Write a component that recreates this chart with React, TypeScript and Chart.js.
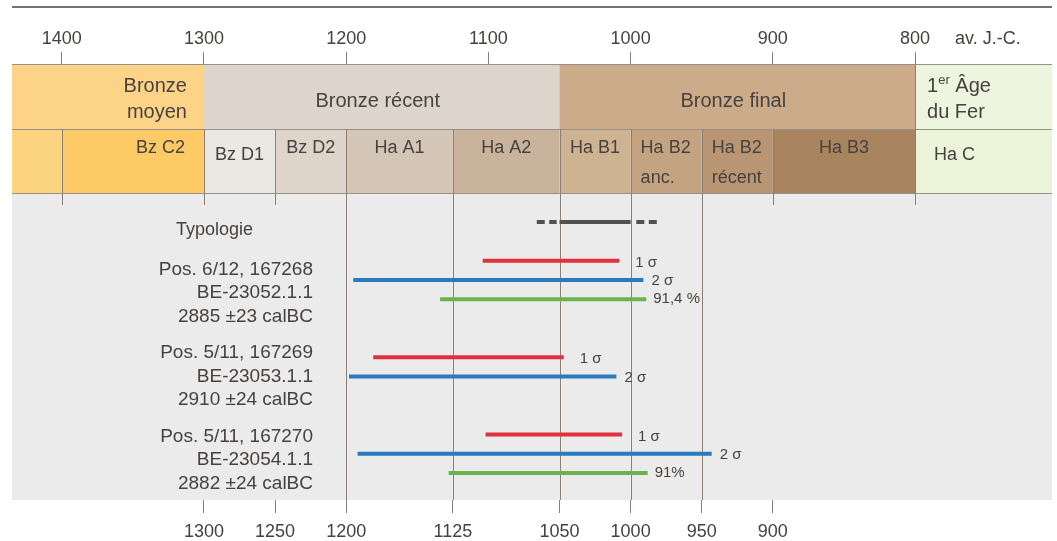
import React, { useEffect, useRef } from "react";
import { Chart, registerables } from "chart.js";

Chart.register(...registerables);

// ---- axis extent (years BC, reversed axis) ----
const YEAR_LEFT = 1435;
const YEAR_RIGHT = 703.7;

// ---- tick labels ----
const topTicks = [1400, 1300, 1200, 1100, 1000, 900, 800];
const bottomTicks = [1300, 1250, 1200, 1125, 1050, 1000, 950, 900];

// ---- periods (row 1) ----
const periodNames = [["Bronze", "moyen"], ["Bronze récent"], ["Bronze final"], ["1er Âge", "du Fer"]];
const periodBounds = [
  [YEAR_LEFT, 1300],
  [1300, 1050],
  [1050, 800],
  [800, YEAR_RIGHT],
];

// ---- phases (row 2) ----
const phaseNames = [[""], ["Bz C2"], ["Bz D1"], ["Bz D2"], ["Ha A1"], ["Ha A2"], ["Ha B1"], ["Ha B2", "anc."], ["Ha B2", "récent"], ["Ha B3"], ["Ha C"]];
const phaseBounds = [
  [YEAR_LEFT, 1400],
  [1400, 1300],
  [1300, 1250],
  [1250, 1200],
  [1200, 1125],
  [1125, 1050],
  [1050, 1000],
  [1000, 950],
  [950, 900],
  [900, 800],
  [800, YEAR_RIGHT],
];

// ---- reference lines in the lower panel ----
const fullGridYears = [1200, 1125, 1050, 1000, 950];
const shortGridYears = [1400, 1300, 1250, 900, 800];

// ---- typology ----
const typologyLabel = "Typologie";
const typologySolid = [1050, 1000];
const typologyDashed = [
  [1066, 1052],
  [996, 981],
];

// ---- radiocarbon samples ----
const sampleLabels = [
  ["Pos. 6/12, 167268", "BE-23052.1.1", "2885 ±23 calBC"],
  ["Pos. 5/11, 167269", "BE-23053.1.1", "2910 ±24 calBC"],
  ["Pos. 5/11, 167270", "BE-23054.1.1", "2882 ±24 calBC"],
];
const sigma1 = [
  [1104, 1008],
  [1181, 1047],
  [1102, 1006],
];
const sigma2 = [
  [1195, 991],
  [1198, 1010],
  [1192, 943],
];
const pctRanges = [[1134, 989], null, [1128, 988]];
const pctLabels = ["91,4 %", null, "91%"];
const sigma1Label = "1 σ";
const sigma2Label = "2 σ";

// row index (category slot) of each item
const typologyRow = 0;
const sampleRows = [2, 7, 11];

// ---- styles ----
const FONT = '"Liberation Sans", Arial, Helvetica, sans-serif';
const TEXT = "#47423f";
const LINE = "#8a8078";
const periodColors = ["#fdd487", "#ddd5cc", "#cbab89", "#eef5df"];
const phaseColors = ["#fcd47f", "#fdca66", "#ebe7e2", "#ddd4ca", "#d4c6b6", "#c9b39c", "#ceb393", "#c4a380", "#b99673", "#a8855f", "#ebf3d9"];
const periodAlign = ["right", "center", "center", "left"];
const phaseAlign = ["center", "right", "center", "center", "center", "center", "center", "left", "left", "center", "left"];
const phaseTextY = [148, 148, 155, 148, 148, 148, 148, 148, 148, 148, 155];
const RED = "#e2313c";
const BLUE = "#2a7bbd";
const GREEN = "#6cb350";
const TYPO = "#545050";

const seg = (r, row) => [
  { x: r[0], y: row },
  { x: r[1], y: row },
];

const bandsPlugin = {
  id: "bands",
  beforeDraw(chart) {
    const ctx = chart.ctx;
    const xs = chart.scales.x;
    const px = (v) => xs.getPixelForValue(v);
    const { left: L, right: R, top: T, bottom: B } = chart.chartArea;
    const r1 = T,
      r2 = T + 65,
      r3 = T + 129;
    ctx.save();
    // top rule
    ctx.fillStyle = "#77716c";
    ctx.fillRect(L, 6, R - L, 2);
    // grey panel
    ctx.fillStyle = "#ebebeb";
    ctx.fillRect(L, r3, R - L, B - r3);
    // row 1
    periodBounds.forEach(([a, b], i) => {
      const x1 = px(a),
        x2 = px(b);
      ctx.fillStyle = periodColors[i];
      ctx.fillRect(x1, r1, x2 - x1, r2 - r1);
    });
    // row 2
    phaseBounds.forEach(([a, b], i) => {
      const x1 = px(a),
        x2 = px(b);
      ctx.fillStyle = phaseColors[i];
      ctx.fillRect(x1, r2, x2 - x1, r3 - r2);
    });
    // horizontal separators
    ctx.strokeStyle = "#9a9088";
    ctx.lineWidth = 1;
    [r1, r2, r3].forEach((y) => {
      ctx.beginPath();
      ctx.moveTo(L, y + 0.5);
      ctx.lineTo(R, y + 0.5);
      ctx.stroke();
    });
    // vertical separators
    ctx.strokeStyle = LINE;
    const vline = (x, y1, y2) => {
      const xx = Math.round(x) + 0.5;
      ctx.beginPath();
      ctx.moveTo(xx, y1);
      ctx.lineTo(xx, y2);
      ctx.stroke();
    };
    vline(px(800), r1, r2);
    phaseBounds.slice(1).forEach(([a]) => vline(px(a), r2, r3));
    fullGridYears.forEach((y) => vline(px(y), r3, B));
    shortGridYears.forEach((y) => vline(px(y), r3, r3 + 12));

    // period texts
    ctx.fillStyle = TEXT;
    ctx.textBaseline = "middle";
    periodNames.forEach((lines, i) => {
      const [a, b] = periodBounds[i];
      const x1 = px(a),
        x2 = px(b);
      const al = periodAlign[i];
      ctx.font = `20px ${FONT}`;
      let x = al === "right" ? x2 - 17 : al === "left" ? x1 + 12 : (x1 + x2) / 2 - 4;
      const ys = lines.length === 2 ? [86, 112] : [101];
      lines.forEach((t, k) => {
        const y = ys[k];
        if (t.startsWith("1er")) {
          ctx.textAlign = "left";
          ctx.font = `20px ${FONT}`;
          ctx.fillText("1", x, y);
          let w = ctx.measureText("1").width;
          ctx.font = `13px ${FONT}`;
          ctx.fillText("er", x + w, y - 6);
          w += ctx.measureText("er").width;
          ctx.font = `20px ${FONT}`;
          ctx.fillText(t.slice(3), x + w, y);
        } else {
          ctx.textAlign = al;
          ctx.fillText(t, x, y);
        }
      });
    });
    // phase texts
    ctx.font = `18px ${FONT}`;
    phaseNames.forEach((lines, i) => {
      const [a, b] = phaseBounds[i];
      const x1 = px(a),
        x2 = px(b);
      const al = phaseAlign[i];
      let x = al === "right" ? x2 - 19 : al === "left" ? x1 + (i === 10 ? 19 : 10) : (x1 + x2) / 2;
      ctx.textAlign = al;
      lines.forEach((t, k) => {
        ctx.fillText(t, x, k === 0 ? phaseTextY[i] : 178);
      });
    });
    // "av. J.-C."
    ctx.font = `18px ${FONT}`;
    ctx.textAlign = "left";
    ctx.fillText("av. J.-C.", px(800) + 40, 39);
    ctx.restore();
  },
  afterDatasetsDraw(chart) {
    const ctx = chart.ctx;
    const xs = chart.scales.x;
    const ys = chart.scales.y;
    const px = (v) => xs.getPixelForValue(v);
    const py = (v) => ys.getPixelForValue(v);
    ctx.save();
    ctx.fillStyle = TEXT;
    ctx.textBaseline = "middle";
    // typology label
    ctx.font = `18px ${FONT}`;
    ctx.textAlign = "right";
    ctx.fillText(typologyLabel, 253, py(typologyRow) + 8);
    // sample labels
    const shifts = [9, -4, 2];
    ctx.font = `19px ${FONT}`;
    sampleLabels.forEach((lines, i) => {
      const y0 = py(sampleRows[i]) + shifts[i];
      lines.forEach((t, k) => ctx.fillText(t, 313, y0 + k * 23.5));
    });
    // range labels
    ctx.font = `15px ${FONT}`;
    ctx.textAlign = "left";
    sampleRows.forEach((row, i) => {
      ctx.fillText(sigma1Label, px(sigma1[i][1]) + 16, py(row) + 2);
      ctx.fillText(sigma2Label, px(sigma2[i][1]) + 8, py(row + 1) + 1);
      const pr = pctRanges[i];
      if (pr) ctx.fillText(pctLabels[i], px(pr[1]) + 7, py(row + 2));
    });
    ctx.restore();
  },
};

export default function App() {
  const ref = useRef(null);
  useEffect(() => {
    const lineDs = (data, color, dash) => ({
      data,
      showLine: true,
      borderColor: color,
      backgroundColor: color,
      borderWidth: 4,
      pointRadius: 0,
      borderCapStyle: "butt",
      borderDash: dash || [],
      fill: false,
    });
    const datasets = [];
    datasets.push(lineDs(seg(typologySolid, typologyRow), TYPO));
    typologyDashed.forEach((r) => datasets.push(lineDs(seg(r, typologyRow), TYPO, [8, 4.5])));
    sampleRows.forEach((row, i) => {
      datasets.push(lineDs(seg(sigma1[i], row), RED));
      datasets.push(lineDs(seg(sigma2[i], row + 1), BLUE));
      if (pctRanges[i]) datasets.push(lineDs(seg(pctRanges[i], row + 2), GREEN));
    });

    const tickFont = { family: FONT, size: 18 };
    const chart = new Chart(ref.current, {
      type: "scatter",
      data: { datasets },
      plugins: [bandsPlugin],
      options: {
        animation: false,
        responsive: false,
        devicePixelRatio: 1,
        events: [],
        layout: { padding: { left: 12, right: 5, top: 0, bottom: 0 } },
        plugins: { legend: { display: false }, tooltip: { enabled: false } },
        scales: {
          x: {
            type: "linear",
            position: "bottom",
            reverse: true,
            min: YEAR_RIGHT,
            max: YEAR_LEFT,
            afterBuildTicks: (s) => {
              s.ticks = bottomTicks.map((v) => ({ value: v }));
            },
            afterFit: (s) => {
              s.height = 41;
            },
            ticks: {
              autoSkip: false,
              maxRotation: 0,
              minRotation: 0,
              padding: 8,
              color: TEXT,
              font: tickFont,
              callback: (v) => String(v),
            },
            grid: { drawOnChartArea: false, tickLength: 13, color: LINE, lineWidth: 1 },
            border: { display: false },
          },
          x2: {
            type: "linear",
            axis: "x",
            position: "top",
            reverse: true,
            min: YEAR_RIGHT,
            max: YEAR_LEFT,
            afterBuildTicks: (s) => {
              s.ticks = topTicks.map((v) => ({ value: v }));
            },
            afterFit: (s) => {
              s.height = 64;
            },
            ticks: {
              autoSkip: false,
              maxRotation: 0,
              minRotation: 0,
              padding: 2,
              color: TEXT,
              font: tickFont,
              callback: (v) => String(v),
            },
            grid: { drawOnChartArea: false, tickLength: 12, color: LINE, lineWidth: 1 },
            border: { display: false },
          },
          y: {
            type: "linear",
            display: false,
            reverse: true,
            min: -8.19,
            max: 14.4,
          },
        },
      },
    });
    return () => chart.destroy();
  }, []);
  return (
    <div style={{ position: "absolute", left: 0, top: 0, width: 1057, height: 541, background: "#fff" }}>
      <canvas ref={ref} width={1057} height={541} style={{ display: "block" }} />
    </div>
  );
}
